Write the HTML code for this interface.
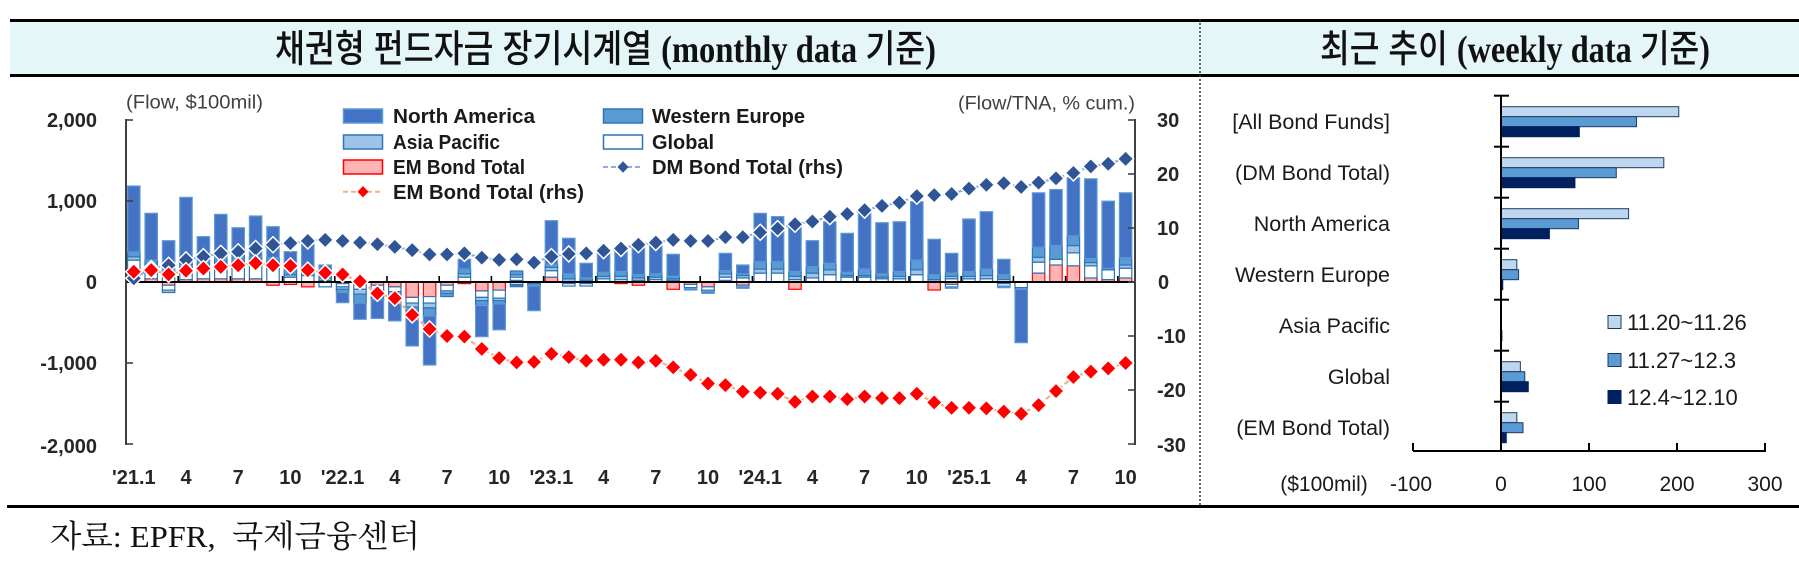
<!DOCTYPE html>
<html><head><meta charset="utf-8">
<style>
html,body{margin:0;padding:0;background:#fff;}
body{width:1799px;height:571px;overflow:hidden;}
svg{display:block;font-family:"Liberation Sans","Noto Sans CJK KR",sans-serif;}
</style></head>
<body>
<svg id="s" width="1799" height="571" viewBox="0 0 1799 571" xmlns="http://www.w3.org/2000/svg">
  <!-- title band -->
  <rect x="10" y="21" width="1789" height="54" fill="#e4f6f8"/>
  <rect x="10" y="19" width="1789" height="3" fill="#000"/>
  <rect x="10" y="74" width="1789" height="3" fill="#000"/>
  <line x1="1200" y1="19" x2="1200" y2="506" stroke="#333" stroke-width="1.5" stroke-dasharray="2,2"/>
  <rect x="7" y="505" width="1792" height="3" fill="#000"/>

  <text x="275" y="62" font-size="38" fill="#111" textLength="661" lengthAdjust="spacingAndGlyphs"><tspan style="font-family:'Liberation Sans','Noto Sans CJK KR',sans-serif;font-weight:500">채권형 펀드자금 장기시계열 </tspan><tspan style="font-family:'Liberation Serif','Noto Serif CJK SC',serif;font-weight:bold">(monthly data </tspan><tspan style="font-family:'Liberation Sans','Noto Sans CJK KR',sans-serif;font-weight:500">기준</tspan><tspan style="font-family:'Liberation Serif','Noto Serif CJK SC',serif;font-weight:bold">)</tspan></text>
  <text x="1320" y="62" font-size="38" fill="#111" textLength="390" lengthAdjust="spacingAndGlyphs"><tspan style="font-family:'Liberation Sans','Noto Sans CJK KR',sans-serif;font-weight:500">최근 추이 </tspan><tspan style="font-family:'Liberation Serif','Noto Serif CJK SC',serif;font-weight:bold">(weekly data </tspan><tspan style="font-family:'Liberation Sans','Noto Sans CJK KR',sans-serif;font-weight:500">기준</tspan><tspan style="font-family:'Liberation Serif','Noto Serif CJK SC',serif;font-weight:bold">)</tspan></text>

  <text x="50" y="547" font-size="31" fill="#111" style="white-space:pre;font-family:'Liberation Serif','Noto Serif CJK SC',serif" textLength="370" lengthAdjust="spacingAndGlyphs">자료: EPFR,  국제금융센터</text>

  <!-- left chart static text -->
  <text x="126" y="108.5" font-size="19" fill="#404040" textLength="137" lengthAdjust="spacingAndGlyphs">(Flow, $100mil)</text>
  <text x="958" y="109.5" font-size="19" fill="#404040" textLength="177" lengthAdjust="spacingAndGlyphs">(Flow/TNA, % cum.)</text>

  <g font-weight="bold" font-size="20" fill="#262626" text-anchor="end">
    <text x="97" y="127">2,000</text>
    <text x="97" y="208">1,000</text>
    <text x="97" y="289">0</text>
    <text x="97" y="370">-1,000</text>
    <text x="97" y="453">-2,000</text>
  </g>
  <g font-weight="bold" font-size="20" fill="#262626">
    <text x="1157" y="127">30</text>
    <text x="1157" y="181">20</text>
    <text x="1157" y="235">10</text>
    <text x="1158" y="289">0</text>
    <text x="1157" y="343">-10</text>
    <text x="1157" y="397">-20</text>
    <text x="1157" y="452">-30</text>
  </g>

  <!-- legend -->
  <g font-weight="bold" font-size="20" fill="#1a1a1a">
    <rect x="343.5" y="109" width="39" height="14" fill="#4472c4" stroke="#5b9bd5" stroke-width="1.5"/>
    <text x="393" y="123" textLength="142" lengthAdjust="spacingAndGlyphs">North America</text>
    <rect x="343.5" y="135" width="39" height="14" fill="#9dc3e6" stroke="#2e75b6" stroke-width="1.5"/>
    <text x="393" y="149" textLength="107" lengthAdjust="spacingAndGlyphs">Asia Pacific</text>
    <rect x="343.5" y="160" width="39" height="14" fill="#ffb3b3" stroke="#ff0000" stroke-width="1.5"/>
    <text x="393" y="174" textLength="132" lengthAdjust="spacingAndGlyphs">EM Bond Total</text>
    <line x1="343" y1="191.7" x2="383" y2="191.7" stroke="#f4b183" stroke-width="2" stroke-dasharray="5,3"/>
    <path d="M363,186 L368.5,191.7 L363,197.4 L357.5,191.7 Z" fill="#ff0000"/>
    <text x="393" y="199" textLength="191" lengthAdjust="spacingAndGlyphs">EM Bond Total (rhs)</text>

    <rect x="603.5" y="109" width="39" height="14" fill="#5b9bd5" stroke="#2e75b6" stroke-width="1.5"/>
    <text x="652" y="123" textLength="153" lengthAdjust="spacingAndGlyphs">Western Europe</text>
    <rect x="603.5" y="135" width="39" height="14" fill="#ffffff" stroke="#2e75b6" stroke-width="1.5"/>
    <text x="652" y="149" textLength="62" lengthAdjust="spacingAndGlyphs">Global</text>
    <line x1="603" y1="167" x2="643" y2="167" stroke="#8faadc" stroke-width="2" stroke-dasharray="5,3"/>
    <path d="M623,161.3 L628.5,167 L623,172.7 L617.5,167 Z" fill="#2f5597"/>
    <text x="652" y="174" textLength="191" lengthAdjust="spacingAndGlyphs">DM Bond Total (rhs)</text>
  </g>

  <g id="g"></g>

  <!-- right chart text -->
  <g font-size="21.5" fill="#1a1a1a" text-anchor="end">
    <text x="1390" y="129">[All Bond Funds]</text>
    <text x="1390" y="180">(DM Bond Total)</text>
    <text x="1390" y="231">North America</text>
    <text x="1390" y="282">Western Europe</text>
    <text x="1390" y="333">Asia Pacific</text>
    <text x="1390" y="384">Global</text>
    <text x="1390" y="435">(EM Bond Total)</text>
  </g>
  <g font-size="21" fill="#1a1a1a" text-anchor="middle">
    <text x="1324" y="491">($100mil)</text>
    <text x="1411" y="491">-100</text>
    <text x="1501" y="491">0</text>
    <text x="1589" y="491">100</text>
    <text x="1677" y="491">200</text>
    <text x="1765" y="491">300</text>
  </g>
  <g font-size="22" fill="#1a1a1a">
    <rect x="1608" y="315.5" width="13" height="13" fill="#bdd7ee" stroke="#203864" stroke-width="1"/>
    <text x="1627" y="330">11.20~11.26</text>
    <rect x="1608" y="353.5" width="13" height="13" fill="#5b9bd5" stroke="#203864" stroke-width="1"/>
    <text x="1627" y="368">11.27~12.3</text>
    <rect x="1608" y="390.5" width="13" height="13" fill="#002060" stroke="#002060" stroke-width="1"/>
    <text x="1627" y="405">12.4~12.10</text>
  </g>
</svg>
<script>
(function(){
var NS="http://www.w3.org/2000/svg";
var g=document.getElementById('g');
function el(tag,a){var e=document.createElementNS(NS,tag);for(var k in a)e.setAttribute(k,a[k]);g.appendChild(e);return e;}
function txt(x,y,s,a){var e=el('text',a);e.setAttribute('x',x);e.setAttribute('y',y);e.textContent=s;return e;}
var C0=133.8,ST=17.4,BW=12.4;
function yL(v){return 282-v*0.081;}
function yR(v){return 282-v*5.4;}
var P=[1185,848,510,1045,560,835,670,815,683,375,478,210,0,0,0,0,0,0,0,280,0,0,136,0,757,540,231,362,383,465,469,342,0,0,354,210,848,807,744,510,744,601,848,732,744,991,527,354,778,868,280,0,1101,1142,1286,1274,998,1101];
var N=[0,0,130,0,0,0,0,0,40,30,60,60,255,460,450,480,790,1025,180,20,675,590,58,354,0,50,50,0,20,40,0,90,99,140,0,78,0,0,90,0,0,0,0,0,0,0,99,78,0,0,70,749,0,0,0,0,0,0];
var posC={0:[30,240,40,60],1:[40,150,30,50],2:[0,90,0,50],3:[30,150,40,60],4:[40,120,30,60],5:[40,160,30,60],6:[40,130,50,120],7:[40,170,40,60],8:[0,200,40,60],9:[0,60,30,60],10:[0,80,30,60],11:[20,0,30,40],19:[0,60,40,60],22:[20,40,30,46],24:[60,80,40,40],25:[0,0,40,60],26:[0,0,20,30],27:[0,40,30,50],28:[0,30,40,60],29:[0,20,30,40],30:[0,30,30,40],31:[0,20,20,30],34:[20,40,40,40],35:[0,50,30,20],36:[0,110,50,90],37:[0,110,50,90],38:[0,30,40,60],39:[0,50,60,80],40:[0,90,60,80],41:[0,60,20,40],42:[0,60,20,80],43:[0,40,20,40],44:[0,40,30,60],45:[0,90,60,120],46:[0,0,30,60],47:[0,40,30,40],48:[0,40,30,60],49:[0,40,40,80],50:[0,30,0,60],52:[110,135,60,125],53:[210,70,0,170],54:[200,160,90,120],55:[50,150,40,50],56:[30,120,0,20],57:[50,120,40,90]};
var negC={2:[40,60,30,0],8:[40,0,0,0],9:[30,0,0,0],10:[60,0,0,0],11:[0,60,0,0],12:[20,40,30,40],13:[30,60,60,110],14:[40,60,40,80],15:[60,60,40,60],16:[190,70,50,80],17:[180,80,60,100],18:[40,70,30,40],19:[20,0,0,0],20:[110,80,40,60],21:[100,100,30,40],22:[0,30,10,18],23:[20,0,0,30],25:[20,30,0,0],26:[20,30,0,0],28:[20,0,0,0],29:[40,0,0,0],31:[90,0,0,0],32:[30,40,10,0],33:[60,40,20,0],35:[40,20,0,0],38:[90,0,0,0],46:[99,0,0,0],47:[30,30,0,0],50:[20,30,0,0],51:[0,70,20,0]};
var fills=['#ffb3b3','#ffffff','#9dc3e6','#5b9bd5','#4472c4'];
var strokes=['#ff0000','#2e75b6','#2e75b6','#2e75b6','#5b9bd5'];
function stack(i,total,comp,sign){
  var c=comp||[0,0,0,0];var s=c[0]+c[1]+c[2]+c[3];
  var vals=[c[0],c[1],c[2],c[3],Math.max(0,total-s)];
  var base=0,x=C0+ST*i-BW/2;
  for(var k=0;k<5;k++){var v=vals[k];if(v<=0)continue;
    var y1=yL(sign*(base+v)),y2=yL(sign*base);
    var top=Math.min(y1,y2),h=Math.abs(y2-y1);
    el('rect',{x:x.toFixed(2),y:top.toFixed(2),width:BW,height:h.toFixed(2),fill:fills[k],stroke:strokes[k],'stroke-width':1.2});
    base+=v;}
}
for(var i=0;i<58;i++){
  if(P[i]>0)stack(i,P[i],posC[i],1);
  if(N[i]>0)stack(i,N[i],negC[i],-1);
}
// axes
el('line',{x1:126,y1:282,x2:1135,y2:282,stroke:'#000','stroke-width':2});
for(var k=1;k<=19;k++){var xx=126+3*ST*k;el('line',{x1:xx,y1:282,x2:xx,y2:276,stroke:'#000','stroke-width':1.6});}
el('line',{x1:126,y1:119,x2:126,y2:445,stroke:'#404040','stroke-width':2});
[2000,1000,-1000,-2000].forEach(function(v){el('line',{x1:126,y1:yL(v),x2:133,y2:yL(v),stroke:'#404040','stroke-width':1.6});});
el('line',{x1:1135,y1:119,x2:1135,y2:445,stroke:'#404040','stroke-width':2});
[30,20,10,0,-10,-20,-30].forEach(function(v){el('line',{x1:1135,y1:yR(v),x2:1128,y2:yR(v),stroke:'#404040','stroke-width':1.6});});
// lines
var DM=[0.7,2.5,3.1,4.1,4.7,5.3,5.6,6.2,6.9,7.2,7.6,7.8,7.6,7.3,7.0,6.5,5.9,5.1,5.1,5.3,4.5,4.1,4.2,3.6,4.7,5.2,5.3,5.8,6.2,6.9,7.3,7.8,7.6,7.6,8.3,8.3,9.2,9.9,10.7,11.2,12.1,12.6,13.3,14.1,14.7,15.9,16.1,16.3,17.3,18.0,18.3,17.6,18.4,19.2,20.2,21.4,21.9,22.8];
var EM=[1.9,2.2,1.4,2.1,2.5,2.8,3.1,3.5,3.1,3.0,2.2,1.7,1.4,0.1,-2.1,-3.0,-6.1,-8.7,-10.0,-10.1,-12.4,-14.1,-14.9,-14.8,-13.3,-13.9,-14.6,-14.4,-14.4,-14.9,-14.6,-15.8,-17.2,-18.8,-19.1,-20.3,-20.5,-20.7,-22.2,-21.2,-21.2,-21.7,-21.2,-21.5,-21.5,-20.7,-22.3,-23.3,-23.3,-23.4,-24.0,-24.4,-22.8,-20.2,-17.6,-16.6,-16.0,-15.0];
function series(arr,lc,mc){
  var pts=arr.map(function(v,i){return (C0+ST*i).toFixed(2)+','+yR(v).toFixed(2);}).join(' ');
  el('polyline',{points:pts,fill:'none',stroke:lc,'stroke-width':2.2,'stroke-dasharray':'5,3'});
  var r=8;
  arr.forEach(function(v,i){var x=C0+ST*i,y=yR(v);
    el('path',{d:'M'+x+','+(y-r)+' L'+(x+r)+','+y+' L'+x+','+(y+r)+' L'+(x-r)+','+y+' Z',fill:mc,stroke:'#fff','stroke-width':1.5});});
}
series(DM,'#8faadc','#2f5597');
series(EM,'#f4b183','#ff0000');
// x labels
var labs=["'21.1","4","7","10","'22.1","4","7","10","'23.1","4","7","10","'24.1","4","7","10","'25.1","4","7","10"];
labs.forEach(function(s,j){txt((C0+ST*3*j).toFixed(2),484,s,{'font-size':20,'font-weight':'bold',fill:'#262626','text-anchor':'middle'});});
// right chart
var X0=1501,SC=0.88;
var RV=[[202,154,89],[185,131,84],[145,88,55],[18,20,2],[0,0,1],[22,27,31],[18,25,6]];
var rf=['#bdd7ee','#5b9bd5','#002060'],rs=['#203864','#203864','#002060'];
RV.forEach(function(r,k){var bt=95.7+51*k;
  for(var s=0;s<3;s++){var v=r[s];if(v<=0)continue;
    el('rect',{x:X0,y:(bt+11+10*s).toFixed(2),width:(v*SC).toFixed(2),height:10,fill:rf[s],stroke:rs[s],'stroke-width':1});}
});
el('line',{x1:X0,y1:95.7,x2:X0,y2:452,stroke:'#000','stroke-width':2});
for(var k=0;k<7;k++){var yy=95.7+51*k;el('line',{x1:1494,y1:yy,x2:1509,y2:yy,stroke:'#000','stroke-width':2});}
el('line',{x1:1413,y1:451,x2:1766,y2:451,stroke:'#000','stroke-width':2});
[1413,1589,1677,1765].forEach(function(x){el('line',{x1:x,y1:451,x2:x,y2:443,stroke:'#000','stroke-width':2});});
})();
</script>
</body></html>
